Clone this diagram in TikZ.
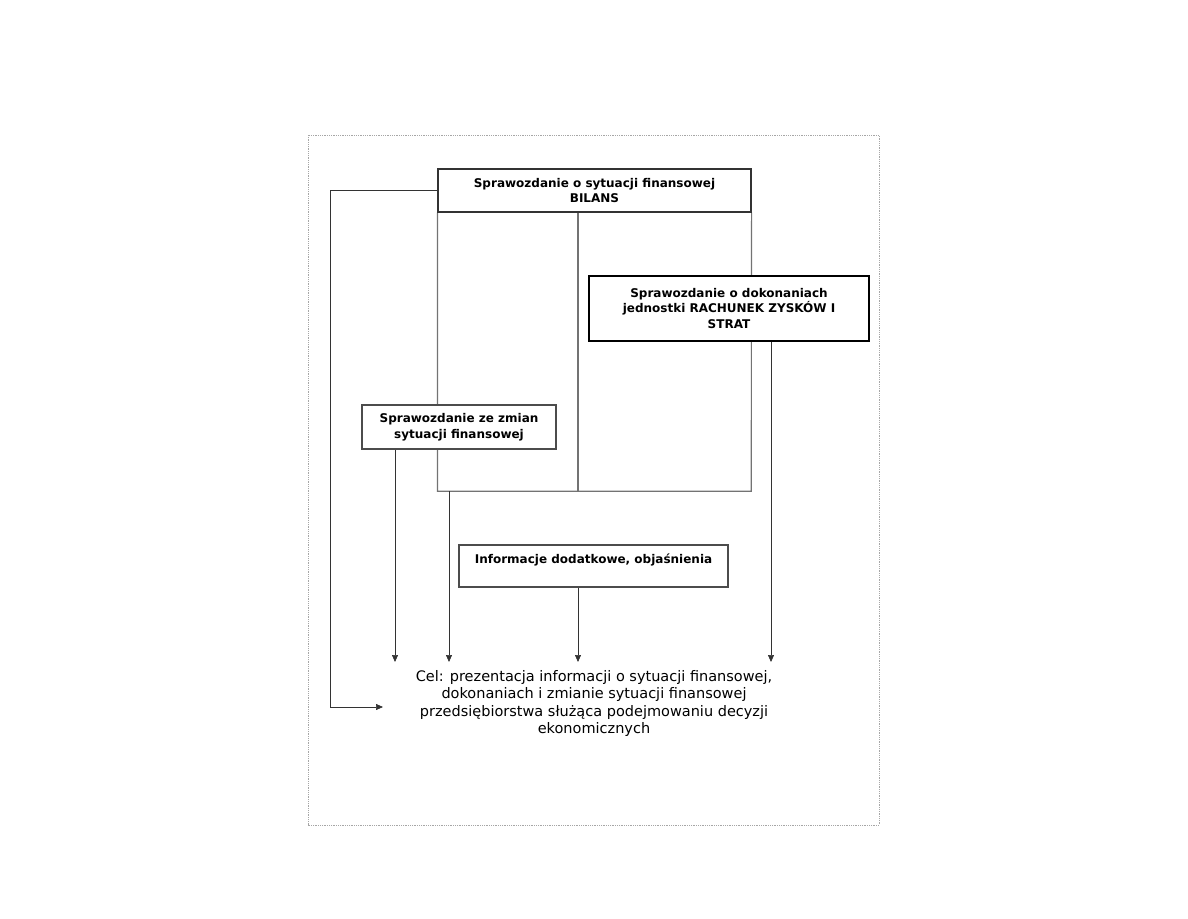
\documentclass[tikz,border=0pt]{standalone}
\usepackage{fontspec}
\setmainfont{DejaVu Sans}
\usetikzlibrary{arrows.meta,positioning,backgrounds}

\begin{document}
\begin{tikzpicture}[x=1pt, y=-1pt,
  bx/.style={draw=black!80, fill=white, line width=1.1pt, inner sep=0pt, align=center,
    font=\fontsize{12}{15.5}\selectfont\bfseries},
  arr/.style={draw=black!80, line width=0.7pt, -{Triangle[length=7pt,width=6pt]}},
  ln/.style={draw=black!55, line width=1.1pt}]
\useasboundingbox (0,0) rectangle (1188,918);
% Frame
\draw[black!35, densely dotted, line width=0.8pt] (308,135) rectangle (879,825);
% Statements
\node[bx, minimum width=313pt, minimum height=43pt] (bilans) at (594.5,190.5) {Sprawozdanie o sytuacji finansowej\\BILANS};
\node[draw=none, minimum width=313pt, minimum height=279pt, inner sep=0pt] (body) at (594.5,351.5) {};
\node[bx, draw=black, minimum width=280pt, minimum height=65pt] (rzis) at (729,308.5) {Sprawozdanie o dokonaniach\\jednostki RACHUNEK ZYSKÓW I\\STRAT};
\node[bx, draw=black!70, minimum width=194pt, minimum height=44pt] (zmiany) at (459,427) {Sprawozdanie ze zmian\\sytuacji finansowej};
\node[bx, draw=black!70, minimum width=269pt, minimum height=42pt] (info) at (593.5,566) {Informacje dodatkowe, objaśnienia\\\mbox{}};
% Goal
\node[align=center, font=\fontsize{14.5}{17.5}\selectfont] (cel) at (594,703.5) {Cel: prezentacja informacji o sytuacji finansowej,\\dokonaniach i zmianie sytuacji finansowej\\przedsiębiorstwa służąca podejmowaniu decyzji\\ekonomicznych};
% Arrow targets
\coordinate (t1) at (395,662);
\coordinate (t2) at (449,662);
\coordinate (t3) at (578,662);
\coordinate (t4) at (771,662);
\coordinate (t5) at (383,707);
\begin{scope}[on background layer]
\draw[ln] (bilans.south west) |- (body.south east) -- (bilans.south east);
\draw[ln] (t3 |- bilans.south) -- (t3 |- body.south);
\draw[arr] (bilans.west) -- ++(-107,0) |- (t5);
\draw[arr] (t1 |- zmiany.south) -- (t1);
\draw[arr] (t2 |- body.south) -- (t2);
\draw[arr] (t3 |- info.south) -- (t3);
\draw[arr] (t4 |- rzis.south) -- (t4);
\end{scope}
\end{tikzpicture}
\end{document}
